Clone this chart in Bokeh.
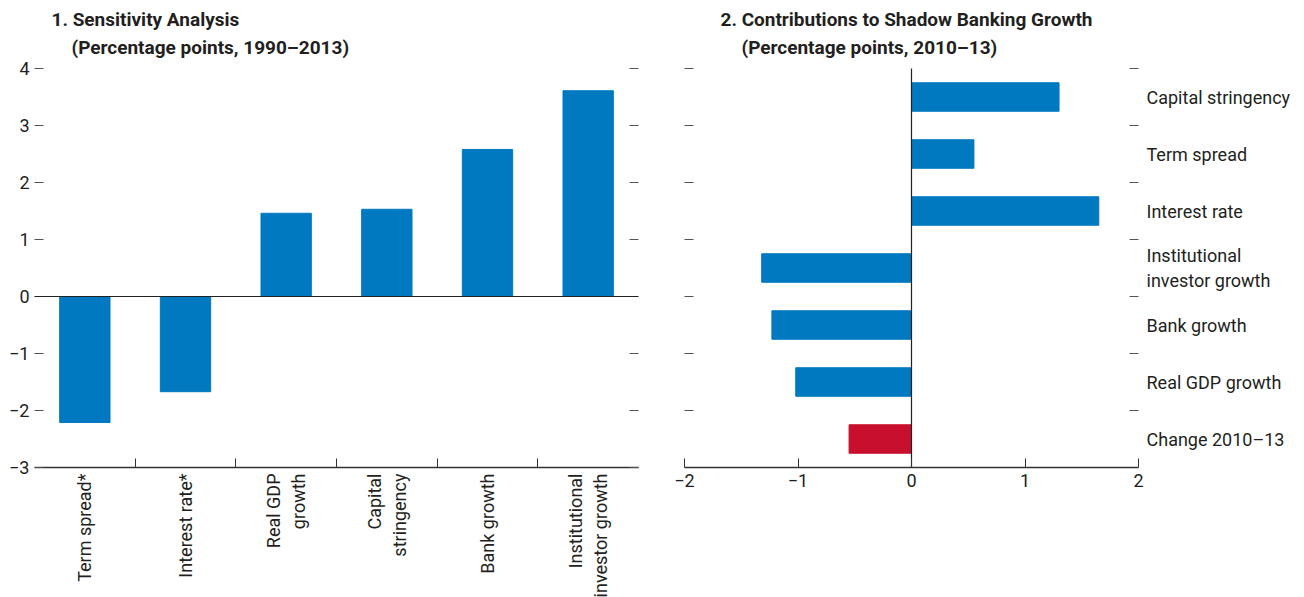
import math
from bokeh.plotting import figure
from bokeh.layouts import row
from bokeh.models import Range1d, FixedTicker, LinearAxis, Title, Span, ColumnDataSource
from bokeh.embed import file_html
from bokeh.resources import INLINE

# ---------------- data ----------------
sens_labels = ["Term spread*", "Interest rate*", "Real GDP\ngrowth", "Capital\nstringency",
               "Bank growth", "Institutional\ninvestor growth"]
sens_values = [-2.21, -1.67, 1.46, 1.53, 2.58, 3.61]
sens_yticks = [-3, -2, -1, 0, 1, 2, 3, 4]

contrib_labels = ["Capital stringency", "Term spread", "Interest rate",
                  "Institutional\ninvestor growth", "Bank growth", "Real GDP growth",
                  "Change 2010\u201313"]
contrib_values = [1.30, 0.55, 1.65, -1.32, -1.23, -1.02, -0.55]
contrib_xticks = [-2, -1, 0, 1, 2]

BLUE = "#0079C1"
RED = "#C8102E"
FONT = "Roboto"
TXT = "#231F20"
LINE = "#333333"
TICK = "#555555"
LBL = "18px"
TFS = "19px"

FRAME_H = 399          # pixel height of the data area
PAD = 10               # blank pixels between the titles and the top of the data area
UNIT = FRAME_H / 7.0   # pixels per y unit in both panels


def fmt(v):
    return str(v).replace("-", "\u2212")


def add_titles(p, line1, line2, off1, off2):
    p.title.text = line1
    p.title.align = "left"
    p.title.offset = off1
    p.title.standoff = 5
    p.title.text_font = FONT
    p.title.text_font_size = TFS
    p.title.text_font_style = "bold"
    p.title.text_color = TXT
    p.add_layout(Title(text=line2, align="left", offset=off2, standoff=0, text_font=FONT,
                       text_font_size=TFS, text_font_style="bold", text_color=TXT), "above")
    p.min_border_top = 68 - PAD


# ---------------- panel 1 ----------------
n1 = len(sens_values)
xs1 = [i + 0.5 for i in range(n1)]
src1 = ColumnDataSource(dict(x=xs1, top=sens_values))

p1 = figure(frame_width=604, frame_height=FRAME_H + PAD, output_backend="svg",
            toolbar_location=None, x_range=Range1d(0, n1),
            y_range=Range1d(sens_yticks[0], sens_yticks[-1] + PAD / UNIT))
p1.min_border_left = 34
p1.min_border_right = 20
p1.min_border_bottom = 0
p1.outline_line_color = None
p1.xgrid.visible = False
p1.ygrid.visible = False
add_titles(p1, "1. Sensitivity Analysis", "(Percentage points, 1990\u20132013)", 17, 37)

p1.vbar(x="x", top="top", bottom=0, width=0.5, source=src1, color=BLUE)
p1.add_layout(Span(location=0, dimension="width", line_color="#222222", line_width=1.2))

xa = p1.xaxis[0]
xa.ticker = FixedTicker(ticks=xs1, minor_ticks=[i for i in range(1, n1)])
xa.major_label_overrides = {x: lab for x, lab in zip(xs1, sens_labels)}
xa.major_label_orientation = math.pi / 2
xa.major_tick_in = 0
xa.major_tick_out = 0
xa.minor_tick_in = 9
xa.minor_tick_out = 0
xa.minor_tick_line_color = LINE
xa.axis_line_color = LINE
xa.axis_line_width = 1.5
xa.major_label_text_font = FONT
xa.major_label_text_font_size = LBL
xa.major_label_text_color = TXT
xa.major_label_standoff = 6

ya = p1.yaxis[0]
ya.ticker = FixedTicker(ticks=sens_yticks)
ya.major_label_overrides = {t: fmt(t) for t in sens_yticks}
ya.axis_line_color = None
ya.major_tick_in = 9
ya.major_tick_out = 0
ya.major_tick_line_color = TICK
ya.major_label_text_font = FONT
ya.major_label_text_font_size = LBL
ya.major_label_text_color = TXT
ya.major_label_standoff = 5

ya2 = LinearAxis(ticker=FixedTicker(ticks=sens_yticks), axis_line_color=None,
                 major_tick_in=9, major_tick_out=0, major_tick_line_color=TICK,
                 major_label_text_color=None, major_label_text_font_size="8px",
                 major_label_standoff=0)
p1.add_layout(ya2, "right")

# ---------------- panel 2 ----------------
n2 = len(contrib_values)
ys2 = [n2 - i - 0.5 for i in range(n2)]
colors2 = [BLUE] * (n2 - 1) + [RED]
src2 = ColumnDataSource(dict(y=ys2, right=contrib_values, color=colors2))

p2 = figure(frame_width=454, frame_height=FRAME_H + PAD, output_backend="svg",
            toolbar_location=None,
            x_range=Range1d(contrib_xticks[0], contrib_xticks[-1]),
            y_range=Range1d(0, n2 + PAD / UNIT))
p2.min_border_left = 26
p2.min_border_right = 150
p2.min_border_bottom = 0
p2.outline_line_color = None
p2.xgrid.visible = False
p2.ygrid.visible = False
add_titles(p2, "2. Contributions to Shadow Banking Growth", "(Percentage points, 2010\u201313)", 36, 57)

p2.hbar(y="y", right="right", left=0, height=0.5, source=src2, color="color")
p2.segment(x0=[0], y0=[0], x1=[0], y1=[n2], line_color="#222222", line_width=1.2)

xb = p2.xaxis[0]
xb.ticker = FixedTicker(ticks=contrib_xticks)
xb.major_label_overrides = {t: fmt(t) for t in contrib_xticks}
xb.major_tick_in = 9
xb.major_tick_out = 0
xb.major_tick_line_color = LINE
xb.axis_line_color = LINE
xb.axis_line_width = 1.5
xb.major_label_text_font = FONT
xb.major_label_text_font_size = LBL
xb.major_label_text_color = TXT
xb.major_label_standoff = 6

bounds2 = [i for i in range(1, n2 + 1)]
yb = p2.yaxis[0]
yb.ticker = FixedTicker(ticks=bounds2)
yb.major_label_text_color = None
yb.major_label_text_font_size = "8px"
yb.major_label_standoff = 0
yb.axis_line_color = None
yb.major_tick_in = 9
yb.major_tick_out = 0
yb.major_tick_line_color = TICK

yb2 = LinearAxis(ticker=FixedTicker(ticks=ys2, minor_ticks=bounds2), axis_line_color=None,
                 major_tick_in=0, major_tick_out=0, minor_tick_in=9, minor_tick_out=0,
                 minor_tick_line_color=TICK,
                 major_label_overrides={y: lab for y, lab in zip(ys2, contrib_labels)},
                 major_label_text_font=FONT, major_label_text_font_size=LBL,
                 major_label_text_color=TXT, major_label_standoff=8)
p2.add_layout(yb2, "right")

layout = row(p1, p2)
open("out.html", "w").write(file_html(layout, INLINE))
